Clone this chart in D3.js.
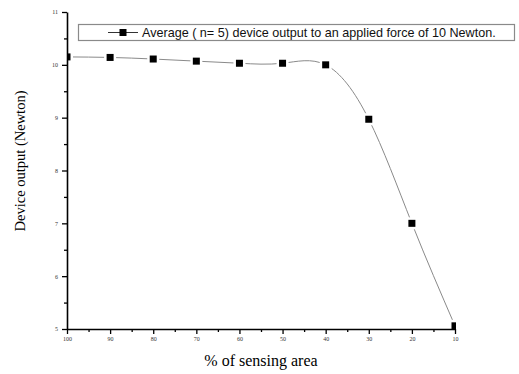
<!DOCTYPE html>
<html>
<head>
<meta charset="utf-8">
<script src="https://cdn.jsdelivr.net/npm/d3@7"></script>
<style>
	body { margin: 0; background: #fff; }
	svg { display: block; }
	.tick text { font-family: "Liberation Serif", serif; font-size: 6px; fill: #333; }
	.axis path, .axis line { stroke: #000; }
	.axis path { stroke-width: 1.6; }
	.axis line { stroke-width: 1.3; }
</style>
</head>
<body>
<div id="chart"></div>
<script>
// data
const areas = [100, 90, 80, 70, 60, 50, 40, 30, 20, 10];
const outputs = [10.15, 10.14, 10.11, 10.07, 10.03, 10.03, 10.0, 8.97, 7.0, 5.06];
const xTicks = [100, 90, 80, 70, 60, 50, 40, 30, 20, 10];
const xMinor = [95, 85, 75, 65, 55, 45, 35, 25, 15];
const yTicks = [5, 6, 7, 8, 9, 10, 11];
const yMinor = [5.5, 6.5, 7.5, 8.5, 9.5, 10.5];
const legendText = 'Average ( n= 5) device output to an applied force of 10 Newton.';

const width = 519, height = 374;
const margin = { top: 12, right: 64, bottom: 45, left: 67 };

const svg = d3.select('#chart')
	.append('svg')
	.attr('width', width)
	.attr('height', height);

const x = d3.scaleLinear()
	.domain([100, 10])
	.range([margin.left, width - margin.right]);

const y = d3.scaleLinear()
	.domain([5, 11])
	.range([height - margin.bottom, margin.top]);

const data = areas.map((a, i) => ({ area: a, value: outputs[i] }));

// clip to the plot area like the original
svg.append('clipPath')
	.attr('id', 'plot-clip')
	.append('rect')
	.attr('x', x(100))
	.attr('y', y(11))
	.attr('width', x(10) - x(100) + 1)
	.attr('height', y(5) - y(11));

const plot = svg.append('g').attr('clip-path', 'url(#plot-clip)');

plot.append('path')
	.datum(data)
	.attr('fill', 'none')
	.attr('stroke', '#8a8a8a')
	.attr('stroke-width', 1)
	.attr('d', d3.line()
		.x(d => x(d.area))
		.y(d => y(d.value))
		.curve(d3.curveNatural)
	);

// white halo so the line stops short of each symbol
plot.selectAll('rect.halo')
	.data(data)
	.join('rect')
	.attr('class', 'halo')
	.attr('x', d => x(d.area) - 6)
	.attr('y', d => y(d.value) - 6)
	.attr('width', 12)
	.attr('height', 12)
	.attr('fill', '#fff');

plot.selectAll('rect.pt')
	.data(data)
	.join('rect')
	.attr('class', 'pt')
	.attr('x', d => x(d.area) - 3.5)
	.attr('y', d => y(d.value) - 3.5)
	.attr('width', 7)
	.attr('height', 7)
	.attr('fill', '#000');

// axes
svg.append('g')
	.attr('class', 'axis')
	.attr('transform', `translate(0, ${y(5)})`)
	.call(d3.axisBottom(x)
		.tickValues(xTicks)
		.tickSize(5)
		.tickSizeOuter(0)
		.tickPadding(3)
		.tickFormat(d3.format('d'))
	);

svg.append('g')
	.attr('class', 'axis')
	.attr('transform', `translate(0, ${y(5)})`)
	.call(d3.axisBottom(x)
		.tickValues(xMinor)
		.tickSize(3)
		.tickSizeOuter(0)
		.tickFormat('')
	)
	.call(g => g.select('.domain').remove());

svg.append('g')
	.attr('class', 'axis')
	.attr('transform', `translate(${x(100)}, 0)`)
	.call(d3.axisLeft(y)
		.tickValues(yTicks)
		.tickSize(5)
		.tickSizeOuter(0)
		.tickPadding(4)
		.tickFormat(d3.format('d'))
	);

svg.append('g')
	.attr('class', 'axis')
	.attr('transform', `translate(${x(100)}, 0)`)
	.call(d3.axisLeft(y)
		.tickValues(yMinor)
		.tickSize(3)
		.tickSizeOuter(0)
		.tickFormat('')
	)
	.call(g => g.select('.domain').remove());

// axis titles
svg.append('text')
	.attr('x', 261)
	.attr('y', 366)
	.attr('text-anchor', 'middle')
	.attr('font-family', 'Liberation Serif, serif')
	.attr('font-size', 16)
	.text('% of sensing area');

svg.append('text')
	.attr('transform', 'translate(25, 161) rotate(-90)')
	.attr('text-anchor', 'middle')
	.attr('font-family', 'Liberation Serif, serif')
	.attr('font-size', 14.5)
	.text('Device output (Newton)');

// legend
const legend = svg.append('g');

legend.append('rect')
	.attr('x', 78.5)
	.attr('y', 24.5)
	.attr('width', 436)
	.attr('height', 16)
	.attr('fill', '#fff')
	.attr('stroke', '#8a8a8a')
	.attr('stroke-width', 1.2);

legend.append('line')
	.attr('x1', 108)
	.attr('x2', 138)
	.attr('y1', 32.5)
	.attr('y2', 32.5)
	.attr('stroke', '#333')
	.attr('stroke-width', 1);

legend.append('rect')
	.attr('x', 119.5)
	.attr('y', 29)
	.attr('width', 7)
	.attr('height', 7)
	.attr('fill', '#000');

legend.append('text')
	.attr('x', 142)
	.attr('y', 37)
	.attr('font-family', 'Liberation Sans, Arial, sans-serif')
	.attr('font-size', 12.6)
	.attr('fill', '#111')
	.text(legendText);
</script>
</body>
</html>
